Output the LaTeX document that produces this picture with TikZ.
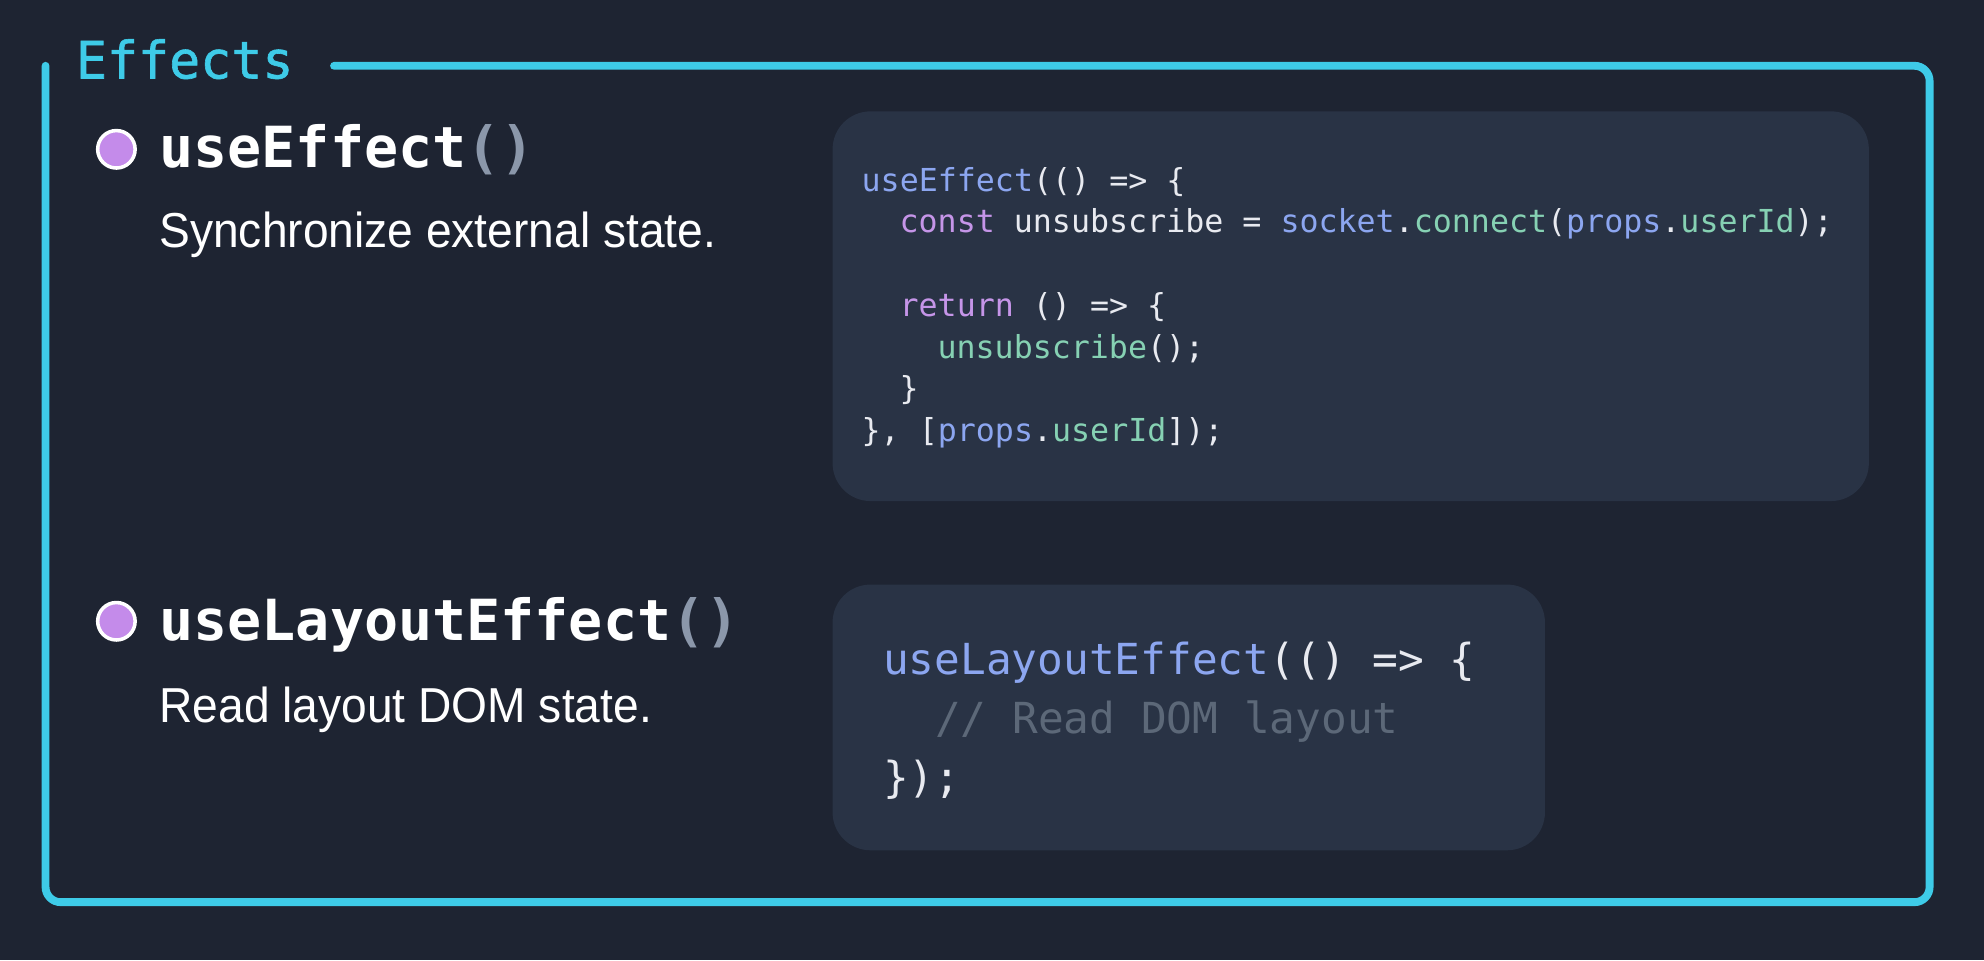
\documentclass[tikz,border=0pt]{standalone}
\usepackage{fontspec}
\newfontfamily\codefont{DejaVu Sans Mono}
\newfontfamily\titlefont[FakeBold=1.2]{DejaVu Sans Mono}
\newfontfamily\bodyfont[FakeStretch=0.94]{Liberation Sans}
\definecolor{bg}{HTML}{1E2432}
\definecolor{boxbg}{HTML}{293345}
\definecolor{framecol}{HTML}{3ECBE8}
\definecolor{cblue}{HTML}{8CA6F0}
\definecolor{cgreen}{HTML}{86D1B3}
\definecolor{cpurple}{HTML}{C595E8}
\definecolor{cwhite}{HTML}{E8EAF0}
\definecolor{cgray}{HTML}{5C6878}
\definecolor{parencol}{HTML}{8B97AA}
\definecolor{bulletcol}{HTML}{C48BEA}
\newcommand\kwB[1]{\textcolor{cblue}{#1}}
\newcommand\kwG[1]{\textcolor{cgreen}{#1}}
\newcommand\kwP[1]{\textcolor{cpurple}{#1}}
\begin{document}
\begin{tikzpicture}[x=0.5pt,y=-0.5pt,
  txt/.style={anchor=base west, inner sep=0pt, outer sep=0pt},
  codeS/.style={txt, text=cwhite, font=\codefont\fontsize{12.5}{15}\selectfont},
  codeL/.style={txt, text=cwhite, font=\codefont\fontsize{16.9}{20}\selectfont},
  heading/.style={txt, text=white, font=\codefont\bfseries\fontsize{22.4}{26}\selectfont},
  desc/.style={txt, text=white, font=\bodyfont\fontsize{19.4}{23}\selectfont},
  bulletdot/.style={circle, fill=bulletcol, draw=white, line width=1.4pt, minimum size=14.8pt, inner sep=0pt},
  codebox/.style={fill=boxbg, rounded corners=15pt}
]
\fill[bg] (0,0) rectangle (1568,759);
\useasboundingbox (0,0) rectangle (1568,759);

% frame
\draw[framecol, line width=3.1pt, line cap=round, rounded corners=6pt]
  (36,52) -- (36,713) -- (1525,713) -- (1525,52) -- (264,52);
\node[txt, text=framecol, font=\titlefont\fontsize{20.4}{24}\selectfont] (title) at (60,62) {Effects};

% section 1
\node[bulletdot] (b1) at (92,118) {};
\node[heading] (h1) at (126,132) {useEffect\textcolor{parencol}{()}};
\node[desc] (d1) at (126,196) {Synchronize external state.};

\path[codebox] (658,88) rectangle (1477,396);
\node[codeS] (c1l1) at (681,151) {\kwB{useEffect}(() => \{};
\node[codeS] (c1l2) at (711,184) {\kwP{const} unsubscribe = \kwB{socket}.\kwG{connect}(\kwB{props}.\kwG{userId});};
\node[codeS] (c1l4) at (711,250) {\kwP{return} () => \{};
\node[codeS] (c1l5) at (741,283) {\kwG{unsubscribe}();};
\node[codeS] (c1l6) at (711,316) {\}};
\node[codeS] (c1l7) at (681,349) {\}, [\kwB{props}.\kwG{userId}]);};

% section 2
\node[bulletdot] (b2) at (92,491) {};
\node[heading] (h2) at (126,506) {useLayoutEffect\textcolor{parencol}{()}};
\node[desc] (d2) at (126,571) {Read layout DOM state.};

\path[codebox] (658,462) rectangle (1221,672);
\node[codeL] (c2l1) at (698,533) {\kwB{useLayoutEffect}(() => \{};
\node[codeL, text=cgray] (c2l2) at (739,580) {// Read DOM layout};
\node[codeL] (c2l3) at (698,626) {\});};
\end{tikzpicture}
\end{document}
